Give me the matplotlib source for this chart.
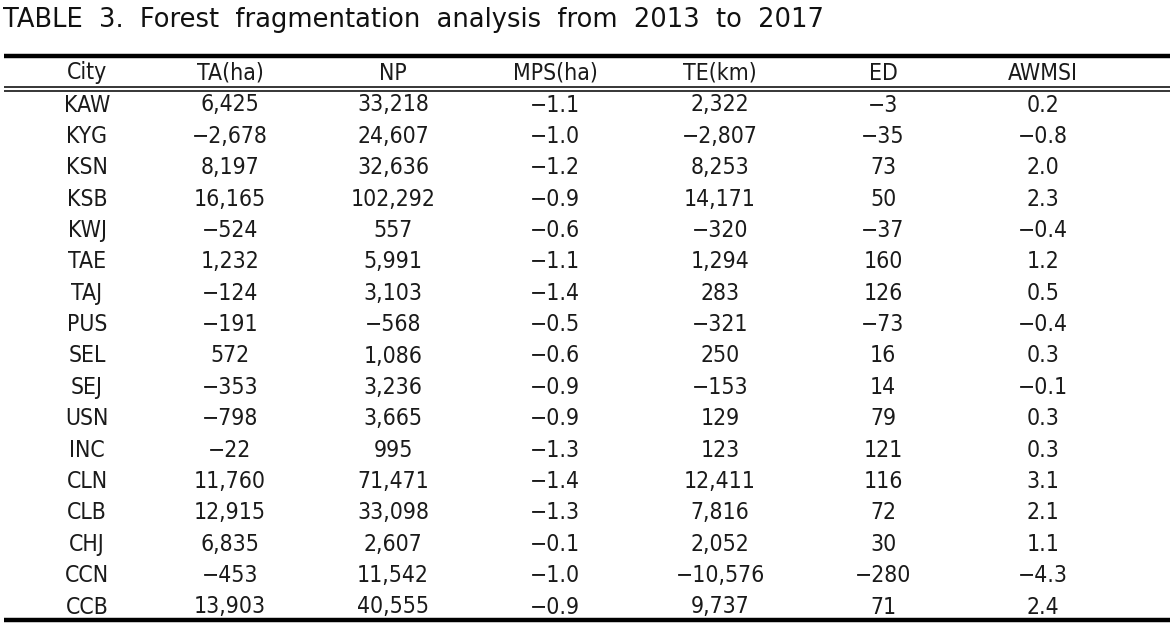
import matplotlib
matplotlib.use("Agg")
import matplotlib.pyplot as plt

# table contents
title = "TABLE 3. Forest fragmentation analysis from 2013 to 2017"
headers = ["City", "TA(ha)", "NP", "MPS(ha)", "TE(km)", "ED", "AWMSI"]
cities = ["KAW", "KYG", "KSN", "KSB", "KWJ", "TAE", "TAJ", "PUS", "SEL",
          "SEJ", "USN", "INC", "CLN", "CLB", "CHJ", "CCN", "CCB"]
ta = [6425, -2678, 8197, 16165, -524, 1232, -124, -191, 572,
      -353, -798, -22, 11760, 12915, 6835, -453, 13903]
np_ = [33218, 24607, 32636, 102292, 557, 5991, 3103, -568, 1086,
       3236, 3665, 995, 71471, 33098, 2607, 11542, 40555]
mps = [-1.1, -1.0, -1.2, -0.9, -0.6, -1.1, -1.4, -0.5, -0.6,
       -0.9, -0.9, -1.3, -1.4, -1.3, -0.1, -1.0, -0.9]
te = [2322, -2807, 8253, 14171, -320, 1294, 283, -321, 250,
      -153, 129, 123, 12411, 7816, 2052, -10576, 9737]
ed = [-3, -35, 73, 50, -37, 160, 126, -73, 16,
      14, 79, 121, 116, 72, 30, -280, 71]
awmsi = [0.2, -0.8, 2.0, 2.3, -0.4, 1.2, 0.5, -0.4, 0.3,
         -0.1, 0.3, 0.3, 3.1, 2.1, 1.1, -4.3, 2.4]


def fmt_int(v):
    return f"{v:,}".replace("-", "\u2212")


def fmt_dec(v):
    return f"{v:.1f}".replace("-", "\u2212")


columns = [cities,
           [fmt_int(v) for v in ta],
           [fmt_int(v) for v in np_],
           [fmt_dec(v) for v in mps],
           [fmt_int(v) for v in te],
           [fmt_int(v) for v in ed],
           [fmt_dec(v) for v in awmsi]]

W, H = 1174, 625
fig = plt.figure(figsize=(W / 100, H / 100), dpi=100)
ax = fig.add_axes([0, 0, 1, 1])
ax.set_xlim(0, W)
ax.set_ylim(H, 0)
ax.axis("off")

col_x = [87, 230, 393, 555, 720, 883, 1043]
cell_kw = dict(fontsize=16.5, family="DejaVu Sans", fontstretch="condensed",
               color="#1a1a1a", ha="center", va="center")

ax.text(3, 20, title.replace(" ", "  "), fontsize=18.5, family="DejaVu Sans",
        va="center", ha="left", color="#111111")

x0, x1 = 4, 1170
ax.plot([x0, x1], [56, 56], color="black", lw=3.2, solid_capstyle="butt")
ax.plot([x0, x1], [86.5, 86.5], color="black", lw=1.1, solid_capstyle="butt")
ax.plot([x0, x1], [90.5, 90.5], color="black", lw=1.1, solid_capstyle="butt")
ax.plot([x0, x1], [620, 620], color="black", lw=3.2, solid_capstyle="butt")

for x, h in zip(col_x, headers):
    ax.text(x, 73, h, **cell_kw)

row_y0, row_dy = 105, (607 - 105) / 16
for x, col in zip(col_x, columns):
    for i, s in enumerate(col):
        ax.text(x, row_y0 + i * row_dy, s, **cell_kw)

fig.savefig("out.png", dpi=100)
